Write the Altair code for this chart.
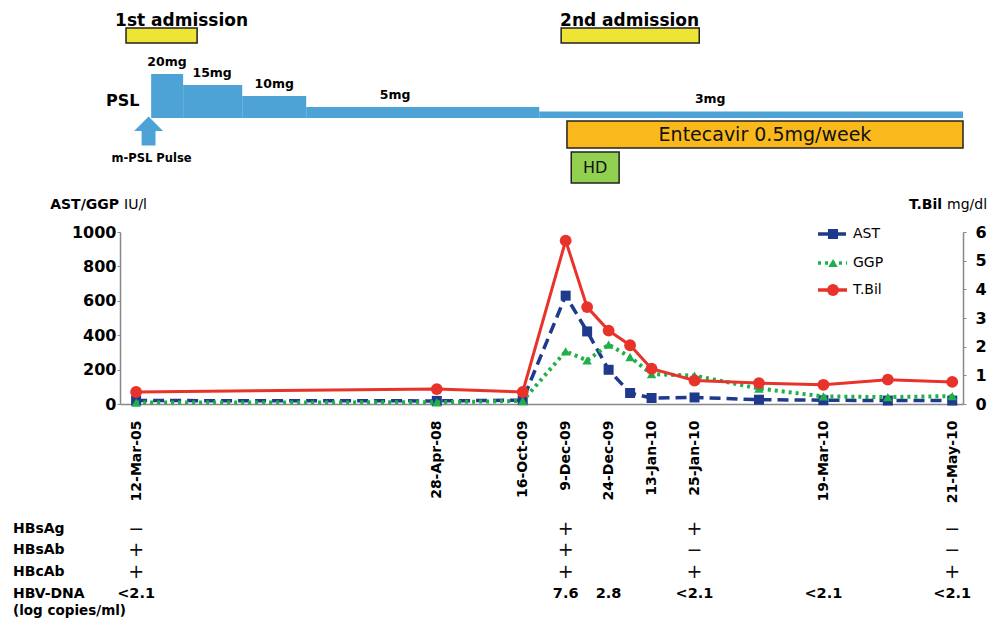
import altair as alt
import pandas as pd

# ---------------- data ----------------
# category slot of each measurement on the (Excel-style) category axis
slot = [0, 14, 18, 20, 21, 22, 23, 24, 26, 29, 32, 35, 38]
ast = [20, 18, 22, 630, 422, 199, 64, 35, 38, 25, 22, 20, 20]
ggp = [8, 10, 18, 306, 253, 345, 273, 174, 165, 90, 44, 40, 46]
tbil = [0.42, 0.52, 0.42, 5.7, 3.38, 2.56, 2.05, 1.23, 0.82, 0.73, 0.67, 0.85, 0.77]

tick_slots = [0, 14, 18, 20, 22, 24, 26, 32, 38]
tick_dates = ["12-Mar-05", "28-Apr-08", "16-Oct-09", "9-Dec-09", "24-Dec-09",
              "13-Jan-10", "25-Jan-10", "19-Mar-10", "21-May-10"]

# PSL dosing schedule (in slot units)
psl_dose = [20, 15, 10, 5, 3]
psl_start = [0.70, 2.19, 4.94, 7.92, 18.77]
psl_end = [2.19, 4.94, 7.92, 18.77, 38.5]
psl_label_x = [1.44, 3.54, 6.43, 12.06, 26.73]

adm_labels = ["1st admission", "2nd admission"]
adm_start = [-0.47, 19.79]
adm_end = [2.84, 26.22]
adm_text_x = [-0.98, 19.74]

etv_start, etv_end = [20.06], [38.5]
hd_start, hd_end = [20.26], [22.49]
pulse_x = [0.58]

# serology table
tbl_slots = [0, 20, 26, 38]
hbsag_vals = ["\u2212", "+", "+", "\u2212"]
hbsab_vals = ["+", "+", "\u2212", "\u2212"]
hbcab_vals = ["+", "+", "+", "+"]
dna_slots = [0, 20, 22, 26, 32, 38]
dna_vals = ["<2.1", "7.6", "2.8", "<2.1", "<2.1", "<2.1"]

# ---------------- style ----------------
FONT = "DejaVu Sans"
BLUE = "#4DA3D6"
NAVY = "#1F3A8C"
GREEN = "#1FB04A"
RED = "#E8332A"
GRAY = "#888888"

xscale = alt.Scale(domain=[-0.75, 38.5], nice=False, zero=False)
label_expr = ("[" + ",".join(f"'{d}'" for d in tick_dates) + "][indexof(["
              + ",".join(str(s) for s in tick_slots) + "], datum.value)]")
xaxis = alt.Axis(values=tick_slots, labelExpr=label_expr, labelAngle=-90,
                 labelFont=FONT, labelFontSize=14, labelFontWeight="bold",
                 labelColor="black", labelPadding=16, ticks=False, tickSize=0,
                 domainColor=GRAY, domainWidth=1.5, grid=False, title=None,
                 labelOverlap=False, labelBound=False, labelFlush=False)


def X(field):
    return alt.X(f"{field}:Q", scale=xscale, axis=xaxis)


lscale = alt.Scale(domain=[0, 1000], nice=False)
laxis = alt.Axis(values=[0, 200, 400, 600, 800, 1000], orient="left", title=None, format="d",
                 labelFont=FONT, labelFontSize=16, labelFontWeight="bold",
                 labelColor="black", tickSize=3, tickColor=GRAY, domainColor=GRAY,
                 domainWidth=1.5, labelPadding=1, grid=False)
rscale = alt.Scale(domain=[0, 6], nice=False)
raxis = alt.Axis(values=[0, 1, 2, 3, 4, 5, 6], orient="right", title=None, format="d",
                 labelFont=FONT, labelFontSize=16, labelFontWeight="bold",
                 labelColor="black", tickSize=3, tickColor=GRAY, domainColor=GRAY,
                 domainWidth=1.5, labelPadding=9, grid=False)

df = pd.DataFrame({"slot": slot, "AST": ast, "GGP": ggp, "TBil": tbil})
base = alt.Chart(df)

ast_line = base.mark_line(color=NAVY, strokeWidth=3.5, strokeDash=[11, 6]).encode(
    x=X("slot"), y=alt.Y("AST:Q", scale=lscale, axis=laxis))
ast_pts = base.mark_point(shape="square", filled=True, size=100, color=NAVY, opacity=1).encode(
    x=X("slot"), y=alt.Y("AST:Q", scale=lscale, axis=laxis))
ggp_line = base.mark_line(color=GREEN, strokeWidth=4, strokeDash=[3, 4]).encode(
    x=X("slot"), y=alt.Y("GGP:Q", scale=lscale, axis=laxis))
ggp_pts = base.mark_point(shape="triangle-up", filled=True, size=90, color=GREEN, opacity=1).encode(
    x=X("slot"), y=alt.Y("GGP:Q", scale=lscale, axis=laxis))
left = alt.layer(ast_line, ast_pts, ggp_line, ggp_pts)

tb_line = base.mark_line(color=RED, strokeWidth=3).encode(
    x=X("slot"), y=alt.Y("TBil:Q", scale=rscale, axis=raxis))
tb_pts = base.mark_point(shape="circle", filled=True, size=140, color=RED, opacity=1).encode(
    x=X("slot"), y=alt.Y("TBil:Q", scale=rscale, axis=raxis))
right = alt.layer(tb_line, tb_pts)

# PSL steps
psl_df = pd.DataFrame({"dose": psl_dose, "start": psl_start, "end": psl_end,
                       "lx": psl_label_x, "label": [f"{d}mg" for d in psl_dose]})
pscale = alt.Scale(domain=[0, 20], range=[-114, -158], nice=False, zero=False)
psl_rect = alt.Chart(psl_df).mark_rect(color=BLUE).encode(
    x=X("start"), x2="end", y=alt.Y("dose:Q", scale=pscale, axis=None), y2=alt.datum(0))
psl_text = alt.Chart(psl_df).mark_text(font=FONT, fontSize=12.5, fontWeight="bold", dy=-8,
                                       baseline="alphabetic", color="black").encode(
    x=X("lx"), y=alt.Y("dose:Q", scale=pscale, axis=None), text="label:N")
psl = alt.layer(psl_rect, psl_text)

one = pd.DataFrame({"a": [0]})

# admissions
adm_df = pd.DataFrame({"label": adm_labels, "start": adm_start, "end": adm_end, "tx": adm_text_x})
adm_box = alt.Chart(adm_df).mark_rect(color="#EDE436", stroke="#222222", strokeWidth=1.5).encode(
    x=X("start"), x2="end", y=alt.value(-204), y2=alt.value(-189))
adm_text = alt.Chart(adm_df).mark_text(align="left", baseline="alphabetic", font=FONT, fontSize=17,
                                       fontWeight="bold", color="black").encode(
    x=X("tx"), y=alt.value(-206), text="label:N")

# Entecavir & HD
etv_df = pd.DataFrame({"start": etv_start, "end": etv_end, "label": ["Entecavir 0.5mg/week"]})
etv_box = alt.Chart(etv_df).mark_rect(color="#F9B91C", stroke="#222222", strokeWidth=1.5).encode(
    x=X("start"), x2="end", y=alt.value(-111), y2=alt.value(-84))
etv_text = alt.Chart(etv_df).transform_calculate(mid="(datum.start + datum.end) / 2").mark_text(
    font=FONT, fontSize=19, baseline="middle", color="#111111").encode(
    x=X("mid"), y=alt.value(-97), text="label:N")
hd_df = pd.DataFrame({"start": hd_start, "end": hd_end, "label": ["HD"]})
hd_box = alt.Chart(hd_df).mark_rect(color="#92D050", stroke="#222222", strokeWidth=1.5).encode(
    x=X("start"), x2="end", y=alt.value(-80), y2=alt.value(-49))
hd_text = alt.Chart(hd_df).transform_calculate(mid="(datum.start + datum.end) / 2").mark_text(
    font=FONT, fontSize=16, baseline="middle", color="#111111").encode(
    x=X("mid"), y=alt.value(-64), text="label:N")

# PSL label, pulse arrow
pulse_df = pd.DataFrame({"x": pulse_x, "label": ["m-PSL Pulse"], "name": ["PSL"]})
arrow = alt.Chart(pulse_df).mark_point(
    shape="M0,-1L1,0L0.48,0L0.48,1L-0.48,1L-0.48,0L-1,0Z", filled=True, size=841,
    color=BLUE, opacity=1).encode(x=X("x"), y=alt.value(-101))
pulse_text = alt.Chart(pulse_df).mark_text(font=FONT, fontSize=11.5, fontWeight="bold",
                                           baseline="alphabetic", color="black", dx=3).encode(
    x=X("x"), y=alt.value(-70), text="label:N")
psl_name = alt.Chart(pulse_df).mark_text(font=FONT, fontSize=16, fontWeight="bold", align="right",
                                         baseline="alphabetic", color="black", dx=-9).encode(
    x=X("x"), y=alt.value(-126), text="name:N")

# axis titles
def txt(s, x, y, weight="normal", align="left", size=14):
    return alt.Chart(one).mark_text(text=s, font=FONT, fontSize=size, fontWeight=weight,
                                    align=align, baseline="alphabetic", color="black").encode(
        x=alt.value(x), y=alt.value(y))

titles = [
    txt("AST/GGP", -1, -23, "bold", "right"),
    txt("IU/l", 4, -23),
    txt("T.Bil", 822, -23, "bold", "right"),
    txt("mg/dl", 827, -23),
]

# legend
legend = []
for name, col, dash, shape, sz, yy in [
    ("AST", NAVY, [11, 6], "square", 100, 2),
    ("GGP", GREEN, [3, 4], "triangle-up", 90, 31),
    ("T.Bil", RED, [1, 0], "circle", 140, 58),
]:
    legend.append(alt.Chart(one).mark_rule(color=col, strokeWidth=3.5, strokeDash=dash).encode(
        x=alt.value(698), x2=alt.value(727), y=alt.value(yy)))
    legend.append(alt.Chart(one).mark_point(shape=shape, filled=True, size=sz, color=col, opacity=1).encode(
        x=alt.value(713), y=alt.value(yy)))
    legend.append(alt.Chart(one).mark_text(text=name, font=FONT, fontSize=14, align="left",
                                           baseline="middle", color="black").encode(
        x=alt.value(733), y=alt.value(yy)))

# serology table
row_y = {"HBsAg": 297, "HBsAb": 318, "HBcAb": 340, "HBV-DNA": 362}
table = []
for rname, yy in row_y.items():
    table.append(alt.Chart(one).mark_text(text=rname, font=FONT, fontSize=14, fontWeight="bold",
                                          align="left", baseline="middle", color="black").encode(
        x=alt.value(-107), y=alt.value(yy)))
table.append(alt.Chart(one).mark_text(text="(log copies/ml)", font=FONT, fontSize=13.5,
                                      fontWeight="bold", align="left", baseline="middle",
                                      color="black").encode(x=alt.value(-107), y=alt.value(379)))
for rname, vals in [("HBsAg", hbsag_vals), ("HBsAb", hbsab_vals), ("HBcAb", hbcab_vals)]:
    tdf = pd.DataFrame({"slot": tbl_slots, "v": vals})
    table.append(alt.Chart(tdf).mark_text(font=FONT, fontSize=19, baseline="middle",
                                          color="#111111").encode(
        x=X("slot"), y=alt.value(row_y[rname]), text="v:N"))
dna_df = pd.DataFrame({"slot": dna_slots, "v": dna_vals})
table.append(alt.Chart(dna_df).mark_text(font=FONT, fontSize=14.5, fontWeight="bold",
                                         baseline="middle", color="black").encode(
    x=X("slot"), y=alt.value(row_y["HBV-DNA"]), text="v:N"))

chart = alt.layer(
    left, right, psl,
    adm_box, adm_text, etv_box, etv_text, hd_box, hd_text,
    arrow, pulse_text, psl_name, *titles, *legend, *table
).resolve_scale(y="independent").properties(
    width=843, height=172,
    padding={"left": 112, "top": 224, "right": 32, "bottom": 215},
    autosize=alt.AutoSizeParams(type="none"),
).configure_view(stroke=None)

chart.save("out.html", embed_options={"renderer": "svg", "actions": False})
